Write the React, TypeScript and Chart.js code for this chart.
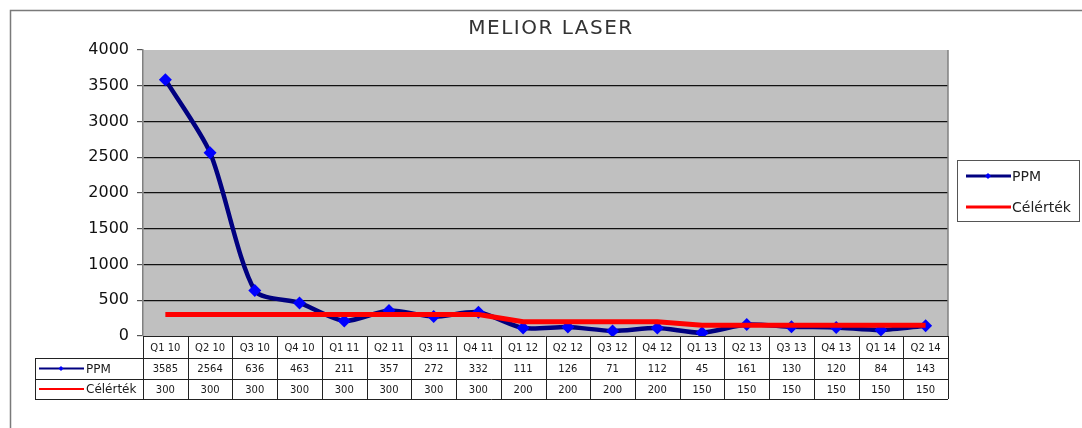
import React, { useEffect, useRef } from "react";
import { Chart, registerables } from "chart.js";

Chart.register(...registerables);

const TITLE = "MELIOR LASER";
const categories = ["Q1 10", "Q2 10", "Q3 10", "Q4 10", "Q1 11", "Q2 11", "Q3 11", "Q4 11", "Q1 12", "Q2 12", "Q3 12", "Q4 12", "Q1 13", "Q2 13", "Q3 13", "Q4 13", "Q1 14", "Q2 14"];
const ppmValues = [3585, 2564, 636, 463, 211, 357, 272, 332, 111, 126, 71, 112, 45, 161, 130, 120, 84, 143];
const targetValues = [300, 300, 300, 300, 300, 300, 300, 300, 200, 200, 200, 200, 150, 150, 150, 150, 150, 150];
const seriesNames = ["PPM", "Célérték"];

const NAVY = "#000080";
const BLUE = "#0000ff";
const RED = "#ff0000";
const FONT = "'DejaVu Sans', sans-serif";

function diamond(ctx: CanvasRenderingContext2D, x: number, y: number, r: number) {
  ctx.beginPath();
  ctx.moveTo(x, y - r);
  ctx.lineTo(x + r, y);
  ctx.lineTo(x, y + r);
  ctx.lineTo(x - r, y);
  ctx.closePath();
  ctx.fill();
}

const decorPlugin = {
  id: "decor",
  beforeDraw(chart: any) {
    const { ctx, chartArea: a } = chart;
    ctx.save();
    ctx.fillStyle = "#ffffff";
    ctx.fillRect(0, 0, chart.width, chart.height);
    ctx.fillStyle = "#c0c0c0";
    ctx.fillRect(a.left, a.top, a.right - a.left, a.bottom - a.top);
    ctx.restore();
  },
  afterDraw(chart: any) {
    const { ctx, chartArea: a } = chart;
    const xs = chart.scales.x;
    ctx.save();
    // outer frame
    ctx.strokeStyle = "#7a7a7a";
    ctx.lineWidth = 1.5;
    ctx.strokeRect(10.5, 10.5, chart.width + 20, chart.height + 20);
    // plot right edge
    ctx.strokeStyle = "#808080";
    ctx.lineWidth = 1.5;
    ctx.beginPath();
    ctx.moveTo(a.right, a.top);
    ctx.lineTo(a.right, a.bottom);
    ctx.stroke();
    // title
    ctx.fillStyle = "#333";
    ctx.font = `20px ${FONT}`;
    (ctx as any).letterSpacing = "1.5px";
    ctx.textAlign = "center";
    ctx.textBaseline = "middle";
    ctx.fillText(TITLE, 551, 29);
    (ctx as any).letterSpacing = "0px";

    // data table
    const n = categories.length;
    const w = (a.right - a.left) / n;
    const r0 = a.bottom, r1 = r0 + 22, r2 = r1 + 21, r3 = r2 + 20;
    const tl = 35;
    ctx.strokeStyle = "#222";
    ctx.lineWidth = 1;
    ctx.beginPath();
    ctx.moveTo(a.left, r0 + 0.5); ctx.lineTo(a.right, r0 + 0.5);
    [r1, r2, r3].forEach((y) => { ctx.moveTo(tl, y + 0.5); ctx.lineTo(a.right, y + 0.5); });
    for (let i = 0; i <= n; i++) {
      const x = Math.round(a.left + i * w) + 0.5;
      ctx.moveTo(x, r0); ctx.lineTo(x, r3);
    }
    ctx.moveTo(tl + 0.5, r1); ctx.lineTo(tl + 0.5, r3);
    ctx.stroke();

    ctx.fillStyle = "#1a1a1a";
    ctx.font = `10px ${FONT}`;
    ctx.textAlign = "center";
    ctx.textBaseline = "middle";
    for (let i = 0; i < n; i++) {
      const cx = xs.getPixelForValue(i);
      ctx.fillText(categories[i], cx, (r0 + r1) / 2 + 1);
      ctx.fillText(String(ppmValues[i]), cx, (r1 + r2) / 2 + 1);
      ctx.fillText(String(targetValues[i]), cx, (r2 + r3) / 2 + 1);
    }
    // table legend keys
    const rowsY = [(r1 + r2) / 2, (r2 + r3) / 2];
    ctx.lineWidth = 2;
    ctx.strokeStyle = NAVY;
    ctx.beginPath(); ctx.moveTo(39, rowsY[0]); ctx.lineTo(84, rowsY[0]); ctx.stroke();
    ctx.fillStyle = BLUE; diamond(ctx, 61, rowsY[0], 2.5);
    ctx.strokeStyle = RED;
    ctx.beginPath(); ctx.moveTo(39, rowsY[1]); ctx.lineTo(84, rowsY[1]); ctx.stroke();
    ctx.fillStyle = "#1a1a1a";
    ctx.font = `12px ${FONT}`;
    ctx.textAlign = "left";
    ctx.fillText(seriesNames[0], 86, rowsY[0] + 1);
    ctx.fillText(seriesNames[1], 86, rowsY[1] + 1);

    // legend box
    ctx.strokeStyle = "#555";
    ctx.lineWidth = 1;
    ctx.strokeRect(957.5, 160.5, 122, 61);
    const ly = [176, 207];
    ctx.lineWidth = 3;
    ctx.strokeStyle = NAVY;
    ctx.beginPath(); ctx.moveTo(966, ly[0]); ctx.lineTo(1011, ly[0]); ctx.stroke();
    ctx.fillStyle = BLUE; diamond(ctx, 988, ly[0], 3);
    ctx.strokeStyle = RED;
    ctx.beginPath(); ctx.moveTo(966, ly[1]); ctx.lineTo(1011, ly[1]); ctx.stroke();
    ctx.fillStyle = "#222";
    ctx.font = `14px ${FONT}`;
    ctx.fillText(seriesNames[0], 1012, ly[0] + 1);
    ctx.fillText(seriesNames[1], 1012, ly[1] + 1);
    ctx.restore();
  },
};

export default function App() {
  const ref = useRef<HTMLCanvasElement | null>(null);
  useEffect(() => {
    document.body.style.margin = "0";
    const canvas = ref.current!;
    const chart = new Chart(canvas, {
      type: "line",
      data: {
        labels: categories,
        datasets: [
          {
            label: seriesNames[0],
            data: ppmValues,
            borderColor: NAVY,
            borderWidth: 4.5,
            pointStyle: "rectRot",
            pointRadius: 6.5,
            pointBackgroundColor: BLUE,
            pointBorderColor: BLUE,
            pointBorderWidth: 0,
            tension: 0.25,
            order: 2,
          },
          {
            label: seriesNames[1],
            data: targetValues,
            borderColor: RED,
            borderWidth: 5,
            pointRadius: 0,
            tension: 0,
            order: 1,
          },
        ],
      },
      options: {
        animation: false,
        responsive: false,
        devicePixelRatio: 1,
        layout: { padding: { left: 0, top: 50, right: 134, bottom: 92 } },
        plugins: { legend: { display: false }, title: { display: false }, tooltip: { enabled: false } },
        scales: {
          x: { display: false, offset: true },
          y: {
            min: 0,
            max: 4000,
            afterFit: (s: any) => { s.width = 143; },
            ticks: {
              stepSize: 500,
              color: "#111",
              font: { family: FONT, size: 16 },
              padding: 8,
              callback: (v: any) => String(v),
            },
            grid: {
              color: (c: any) => (c.tick && (c.tick.value === 4000 || c.tick.value === 0) ? "rgba(0,0,0,0)" : "#111"),
              tickColor: "#555",
              tickLength: 6,
              lineWidth: 1.2,
            },
            border: { display: true, color: "#808080", width: 1.5 },
          },
        },
      },
      plugins: [decorPlugin],
    });
    return () => chart.destroy();
  }, []);
  return <canvas ref={ref} width={1082} height={428} style={{ display: "block", width: 1082, height: 428 }} />;
}
